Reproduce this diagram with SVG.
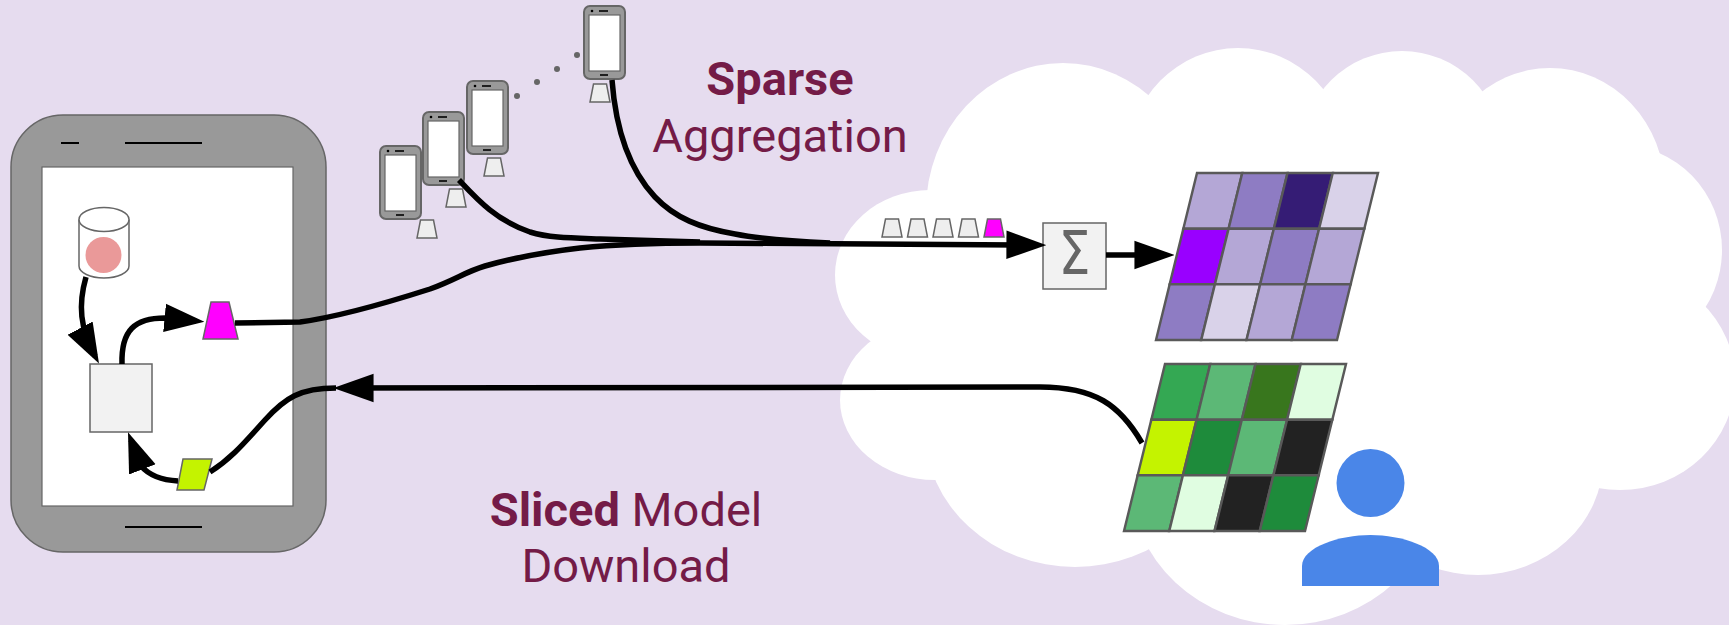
<svg xmlns="http://www.w3.org/2000/svg" xmlns:xlink="http://www.w3.org/1999/xlink" width="1729" height="625" viewBox="0 0 1729 625">
  <style>
    .bezel { fill: #999999; stroke: #666666; stroke-width: 1.5; }
    .screen { fill: #ffffff; stroke: #666666; stroke-width: 1.2; }
    .slit { stroke: #000000; stroke-width: 2; fill: none; }
    .token { fill: #eeeeee; stroke: #666666; stroke-width: 1.5; }
    .hot { fill: #ff00ff; stroke: #666666; stroke-width: 1.5; }
    .cell { stroke: #595959; stroke-width: 2.5; }
    .wire { fill: none; stroke: #000000; stroke-width: 5.5; }
    .label { font-family: Roboto, "Liberation Sans", sans-serif; font-size: 47px; fill: #741b47; }
    .cloud ellipse { fill: #ffffff; }
  </style>
  <defs>
    <marker id="head" markerUnits="userSpaceOnUse" markerWidth="40" markerHeight="30" viewBox="0 0 38 27" refX="30" refY="13.5" orient="auto">
      <path d="M0,0 L38,13.5 L0,27 Z" fill="#000000"/>
    </marker>
    <!-- small handset used for the participating clients -->
    <g id="handset">
      <rect x="0" y="0" width="41" height="73" rx="6" fill="#999999" stroke="#666666" stroke-width="2"/>
      <rect x="5" y="9" width="31" height="56" class="screen"/>
      <circle cx="8" cy="5" r="1.3" fill="#000000"/>
      <line x1="15" y1="5" x2="24" y2="5" stroke="#000000" stroke-width="1.6"/>
      <line x1="16" y1="69" x2="24" y2="69" stroke="#000000" stroke-width="1.6"/>
    </g>
    <polygon id="tok" points="3.5,0 16.5,0 20,18 0,18"/>
  </defs>

  <rect x="0" y="0" width="1729" height="625" fill="#e6dcef"/>

  <!-- server cloud -->
  <g id="cloud" class="cloud">
    <ellipse cx="1280" cy="320" rx="380" ry="230"/>
    <ellipse cx="930" cy="275" rx="95" ry="85"/>
    <ellipse cx="935" cy="400" rx="95" ry="80"/>
    <ellipse cx="1063" cy="210" rx="137" ry="147"/>
    <ellipse cx="1238" cy="160" rx="110" ry="112"/>
    <ellipse cx="1402" cy="150" rx="100" ry="99"/>
    <ellipse cx="1550" cy="190" rx="115" ry="122"/>
    <ellipse cx="1620" cy="250" rx="102" ry="105"/>
    <ellipse cx="1620" cy="380" rx="115" ry="110"/>
    <ellipse cx="1478" cy="460" rx="125" ry="115"/>
    <ellipse cx="1285" cy="480" rx="155" ry="145"/>
    <ellipse cx="1075" cy="430" rx="150" ry="137"/>
  </g>

  <!-- local device -->
  <g id="device">
    <rect x="11" y="115" width="315" height="437" rx="52" class="bezel"/>
    <rect x="42" y="167" width="251" height="339" class="screen"/>
    <line x1="61" y1="143" x2="79" y2="143" class="slit"/>
    <line x1="125" y1="143" x2="202" y2="143" class="slit"/>
    <line x1="125" y1="527" x2="202" y2="527" class="slit"/>
  </g>

  <g id="local-data">
    <path d="M79,219.5 L79,266 A25,12 0 0 0 129,266 L129,219.5" fill="#ffffff" stroke="#666666" stroke-width="1.5"/>
    <ellipse cx="104" cy="219.5" rx="25" ry="12" fill="#ffffff" stroke="#666666" stroke-width="1.5"/>
    <circle cx="103.5" cy="255" r="18" fill="#ea9999"/>
  </g>

  <g id="local-model">
    <rect x="90" y="364" width="62" height="68" fill="#f2f2f2" stroke="#666666" stroke-width="1.5"/>
  </g>

  <g id="local-update">
    <polygon points="211,302 229,302 238,339 203,339" class="hot"/>
  </g>

  <g id="model-slice">
    <polygon points="183,459 212,459 204,490 177,490" fill="#c4f300" stroke="#666666" stroke-width="1.5"/>
  </g>

  <!-- other clients -->
  <g id="client-a">
    <use xlink:href="#handset" x="380" y="146"/>
    <use xlink:href="#tok" x="417" y="220" class="token"/>
  </g>
  <g id="client-b">
    <use xlink:href="#handset" x="423" y="112"/>
    <use xlink:href="#tok" x="446" y="189" class="token"/>
  </g>
  <g id="client-c">
    <use xlink:href="#handset" x="467" y="81"/>
    <use xlink:href="#tok" x="484" y="158" class="token"/>
  </g>
  <g id="client-ellipsis" fill="#666666">
    <circle cx="517" cy="96" r="3"/>
    <circle cx="537" cy="82" r="3"/>
    <circle cx="557" cy="69" r="3"/>
    <circle cx="577" cy="55" r="3"/>
  </g>
  <g id="client-d">
    <use xlink:href="#handset" x="584" y="6"/>
    <use xlink:href="#tok" x="590" y="84" class="token"/>
  </g>

  <!-- updates arriving at the server -->
  <g id="update-queue">
    <use xlink:href="#tok" x="882" y="219" class="token"/>
    <use xlink:href="#tok" x="907.5" y="219" class="token"/>
    <use xlink:href="#tok" x="933" y="219" class="token"/>
    <use xlink:href="#tok" x="958.5" y="219" class="token"/>
    <use xlink:href="#tok" x="984" y="219" class="hot"/>
  </g>

  <g id="sum">
    <rect x="1043" y="223" width="63" height="66" fill="#f2f2f2" stroke="#666666" stroke-width="1.5"/>
    <text x="1074.5" y="274" text-anchor="middle" font-family="DejaVu Sans, sans-serif" font-size="60" fill="#666666" textLength="32" lengthAdjust="spacingAndGlyphs">Σ</text>
  </g>

  <!-- aggregated model -->
  <g id="aggregate-matrix" transform="translate(1197,173) skewX(-13.79)">
    <rect class="cell" x="0" y="0" width="45.25" height="55.67" fill="#b4a7d6"/>
    <rect class="cell" x="45.25" y="0" width="45.25" height="55.67" fill="#8e7cc3"/>
    <rect class="cell" x="90.5" y="0" width="45.25" height="55.67" fill="#351c75"/>
    <rect class="cell" x="135.75" y="0" width="45.25" height="55.67" fill="#d9d2e9"/>
    <rect class="cell" x="0" y="55.67" width="45.25" height="55.67" fill="#9900ff"/>
    <rect class="cell" x="45.25" y="55.67" width="45.25" height="55.67" fill="#b4a7d6"/>
    <rect class="cell" x="90.5" y="55.67" width="45.25" height="55.67" fill="#8e7cc3"/>
    <rect class="cell" x="135.75" y="55.67" width="45.25" height="55.67" fill="#b4a7d6"/>
    <rect class="cell" x="0" y="111.33" width="45.25" height="55.67" fill="#8e7cc3"/>
    <rect class="cell" x="45.25" y="111.33" width="45.25" height="55.67" fill="#d9d2e9"/>
    <rect class="cell" x="90.5" y="111.33" width="45.25" height="55.67" fill="#b4a7d6"/>
    <rect class="cell" x="135.75" y="111.33" width="45.25" height="55.67" fill="#8e7cc3"/>
  </g>

  <!-- served model -->
  <g id="global-matrix" transform="translate(1165,364) skewX(-13.79)">
    <rect class="cell" x="0" y="0" width="45.25" height="55.67" fill="#34a853"/>
    <rect class="cell" x="45.25" y="0" width="45.25" height="55.67" fill="#5cb876"/>
    <rect class="cell" x="90.5" y="0" width="45.25" height="55.67" fill="#38761d"/>
    <rect class="cell" x="135.75" y="0" width="45.25" height="55.67" fill="#e0fde1"/>
    <rect class="cell" x="0" y="55.67" width="45.25" height="55.67" fill="#c4f300"/>
    <rect class="cell" x="45.25" y="55.67" width="45.25" height="55.67" fill="#1e8b3b"/>
    <rect class="cell" x="90.5" y="55.67" width="45.25" height="55.67" fill="#5cb876"/>
    <rect class="cell" x="135.75" y="55.67" width="45.25" height="55.67" fill="#222222"/>
    <rect class="cell" x="0" y="111.33" width="45.25" height="55.67" fill="#5cb876"/>
    <rect class="cell" x="45.25" y="111.33" width="45.25" height="55.67" fill="#e0fde1"/>
    <rect class="cell" x="90.5" y="111.33" width="45.25" height="55.67" fill="#222222"/>
    <rect class="cell" x="135.75" y="111.33" width="45.25" height="55.67" fill="#1e8b3b"/>
  </g>

  <g id="owner" fill="#4a86e8">
    <circle cx="1370.5" cy="483" r="34"/>
    <path d="M1302,586 L1302,566 C1302,547 1340,535 1370.5,535 C1401,535 1439,547 1439,566 L1439,586 Z"/>
  </g>

  <g id="label-upload" class="label" text-anchor="middle">
    <text x="780" y="95" font-weight="bold">Sparse</text>
    <text x="780" y="152">Aggregation</text>
  </g>

  <g id="label-download" class="label" text-anchor="middle">
    <text x="626" y="526"><tspan font-weight="bold">Sliced</tspan> Model</text>
    <text x="626" y="582">Download</text>
  </g>

  <!-- connectors -->
  <g id="connectors">
    <path class="wire" d="M86,277 C78,305 80,328 95,356" marker-end="url(#head)"/>
    <path class="wire" d="M122,364 C121,330 135,318 165,318 L196,321" marker-end="url(#head)"/>
    <path class="wire" d="M178,481 C160,480 148,474 141,466 L131,440" marker-end="url(#head)"/>
    <path class="wire" d="M459,180 C475,197 495,220 530,232 C550,238 570,238 600,239 L700,242"/>
    <path class="wire" d="M612,80 C615,120 625,165 655,197 C675,218 700,228 735,234 C760,239 790,241 830,243"/>
    <path class="wire" d="M235,323 L300,322 C330,318 380,305 430,289 C455,280 465,272 485,266 C510,259 545,252 580,248 C620,244 650,243 700,243 L1038,245" marker-end="url(#head)"/>
    <path class="wire" d="M1106,255 L1166,255" marker-end="url(#head)"/>
    <path class="wire" d="M1142,443 C1120,405 1095,387 1040,387 L342,388" marker-end="url(#head)"/>
    <path class="wire" d="M336,388 C300,388 285,398 265,420 C245,442 232,458 210,472"/>
  </g>
</svg>
